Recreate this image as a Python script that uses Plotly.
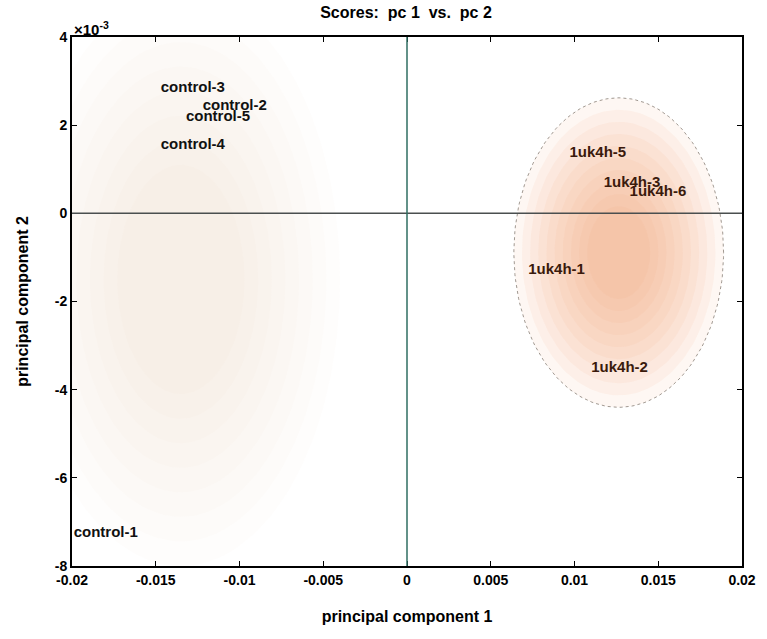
import numpy as np
import plotly.graph_objects as go

# ---- data (scores) ----
control_labels = ["control-3", "control-2", "control-5", "control-4", "control-1"]
control_pc1 = [-0.0147, -0.0122, -0.0132, -0.0147, -0.0199]
control_pc2 = [2.84e-3, 2.43e-3, 2.18e-3, 1.55e-3, -7.25e-3]

tuk_labels = ["1uk4h-5", "1uk4h-3", "1uk4h-6", "1uk4h-1", "1uk4h-2"]
tuk_pc1 = [0.0097, 0.01174, 0.01329, 0.00724, 0.0110]
tuk_pc2 = [1.36e-3, 0.68e-3, 0.48e-3, -1.30e-3, -3.52e-3]

# confidence ellipse of the 1uk4h group (center, semi-axes)
ell_center = (0.01264, -0.89e-3)
ell_radius = (0.00626, 3.51e-3)

# faint region of control group
ctl_center = (-0.0135, -1.5e-3)
ctl_radius = (0.0095, 6.5e-3)

x_ticks = [-0.02, -0.015, -0.01, -0.005, 0, 0.005, 0.01, 0.015, 0.02]
x_ticktext = ["-0.02", "-0.015", "-0.01", "-0.005", "0", "0.005", "0.01", "0.015", "0.02"]
y_ticks = [4e-3, 2e-3, 0, -2e-3, -4e-3, -6e-3, -8e-3]
y_ticktext = ["4", "2", "0", "-2", "-4", "-6", "-8"]

FONT = "Liberation Sans, Arial, sans-serif"

def ellipse(center, radius, scale=1.0, n=200):
    t = np.linspace(0, 2 * np.pi, n)
    return (center[0] + scale * radius[0] * np.cos(t),
            center[1] + scale * radius[1] * np.sin(t))

fig = go.Figure()

# faint control region (soft)
for s in np.linspace(1.0, 0.4, 8):
    ex, ey = ellipse(ctl_center, ctl_radius, s)
    fig.add_trace(go.Scatter(x=ex, y=ey, mode="lines", fill="toself",
                             fillcolor="rgba(230,200,165,0.035)",
                             line=dict(width=0), hoverinfo="skip", showlegend=False))

# tuk ellipse with soft gradient
for s in np.linspace(1.0, 0.3, 10):
    ex, ey = ellipse(ell_center, ell_radius, s)
    fig.add_trace(go.Scatter(x=ex, y=ey, mode="lines", fill="toself",
                             fillcolor="rgba(245,165,115,0.085)",
                             line=dict(width=0), hoverinfo="skip", showlegend=False))
ex, ey = ellipse(ell_center, ell_radius, 1.0)
fig.add_trace(go.Scatter(x=ex, y=ey, mode="lines",
                         line=dict(color="rgba(120,110,100,0.7)", width=1, dash="dot"),
                         hoverinfo="skip", showlegend=False))

fig.add_trace(go.Scatter(x=control_pc1, y=control_pc2, mode="text", text=control_labels,
                         textposition="middle right", cliponaxis=False,
                         textfont=dict(family=FONT, size=15, color="#111111", weight="bold"),
                         showlegend=False))
fig.add_trace(go.Scatter(x=tuk_pc1, y=tuk_pc2, mode="text", text=tuk_labels,
                         textposition="middle right", cliponaxis=False,
                         textfont=dict(family=FONT, size=15, color="#3a1a0c", weight="bold"),
                         showlegend=False))

# zero lines
fig.add_hline(y=0, line=dict(color="#4a4f4f", width=1.5))
fig.add_vline(x=0, line=dict(color="#2f6e62", width=1.5))

fig.update_layout(
    width=767, height=639,
    margin=dict(l=72, r=25, t=37, b=73),
    paper_bgcolor="white", plot_bgcolor="white",
    font=dict(family=FONT, size=14, color="black"),
    title=dict(text="<b>Scores:  pc 1  vs.  pc 2</b>", x=406 / 767, xanchor="center",
               y=1 - 12 / 639, yanchor="middle", font=dict(size=16, family=FONT)),
    annotations=[dict(text="<b>×10<sup>-3</sup></b>", xref="paper", yref="paper", x=0.0, y=1.0,
                      xanchor="left", yanchor="bottom", showarrow=False, yshift=-3,
                      font=dict(size=15, family=FONT, color="black"))],
)
fig.update_xaxes(range=[-0.02, 0.02], tickvals=x_ticks, ticktext=x_ticktext,
                 showgrid=False, zeroline=False, showline=True, linecolor="black",
                 linewidth=2, mirror="ticks", ticks="inside", ticklen=5, tickcolor="black",
                 tickfont=dict(size=14, family=FONT, weight="bold"),
                 title=dict(text="<b>principal component 1</b>", standoff=24,
                            font=dict(size=16, family=FONT)))
fig.update_yaxes(range=[-8e-3, 4e-3], tickvals=y_ticks, ticktext=y_ticktext,
                 showgrid=False, zeroline=False, showline=True, linecolor="black",
                 linewidth=2, mirror="ticks", ticks="inside", ticklen=5, tickcolor="black",
                 tickfont=dict(size=14, family=FONT, weight="bold"),
                 title=dict(text="<b>principal component 2</b>", standoff=22,
                            font=dict(size=16, family=FONT)))

fig.write_html("out.html")
